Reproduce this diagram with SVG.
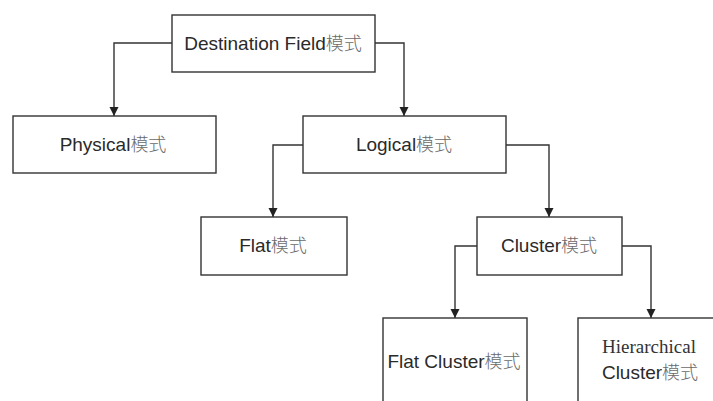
<svg xmlns="http://www.w3.org/2000/svg" width="713" height="401" viewBox="0 0 713 401">
<defs>
<marker id="arr" markerUnits="userSpaceOnUse" markerWidth="10" markerHeight="10" refX="9" refY="4.5" orient="auto">
<path d="M0,0 L9,4.5 L0,9 z" fill="#222"/>
</marker>
<style>
.box{fill:#fff;stroke:#333;stroke-width:1.4}
.t{font-family:"Liberation Sans",Arial,"Noto Sans CJK SC",sans-serif;font-size:19px;fill:#2a2a2a;text-anchor:middle}
.s{font-family:"Liberation Serif","Times New Roman","Noto Sans CJK SC",serif;font-size:19px;fill:#333;text-anchor:middle}
.c{font-family:"Noto Sans CJK SC",sans-serif;font-size:18px;fill:#6a6a6a;font-weight:300}
.ln{fill:none;stroke:#333;stroke-width:1.4;marker-end:url(#arr)}
</style>
</defs>
<rect width="713" height="401" fill="#fff"/>
<g id="connectors">
<path class="ln" d="M172,43 H114 V116"/>
<path class="ln" d="M375,43 H404 V116"/>
<path class="ln" d="M303,145 H273 V217"/>
<path class="ln" d="M506,145 H549 V217"/>
<path class="ln" d="M477,246 H455 V318"/>
<path class="ln" d="M622,246 H651 V318"/>
</g>
<g id="destination">
<rect class="box" x="172" y="15" width="203" height="57"/>
<text class="t" x="273" y="50">Destination Field<tspan class="c">模式</tspan></text>
</g>
<g id="physical">
<rect class="box" x="13" y="116" width="203" height="57"/>
<text class="t" x="113" y="151">Physical<tspan class="c">模式</tspan></text>
</g>
<g id="logical">
<rect class="box" x="303" y="116" width="203" height="57"/>
<text class="t" x="404" y="151">Logical<tspan class="c">模式</tspan></text>
</g>
<g id="flat">
<rect class="box" x="201" y="217" width="146" height="58"/>
<text class="t" x="273" y="252">Flat<tspan class="c">模式</tspan></text>
</g>
<g id="cluster">
<rect class="box" x="477" y="217" width="145" height="58"/>
<text class="t" x="549" y="252">Cluster<tspan class="c">模式</tspan></text>
</g>
<g id="flatcluster">
<rect class="box" x="383" y="318" width="144" height="100"/>
<text class="t" x="454" y="368">Flat Cluster<tspan class="c">模式</tspan></text>
</g>
<g id="hierarchical">
<rect class="box" x="578" y="318" width="160" height="100"/>
<text class="s" x="649" y="353">Hierarchical</text>
<text class="t" x="650" y="379">Cluster<tspan class="c">模式</tspan></text>
</g>
</svg>
